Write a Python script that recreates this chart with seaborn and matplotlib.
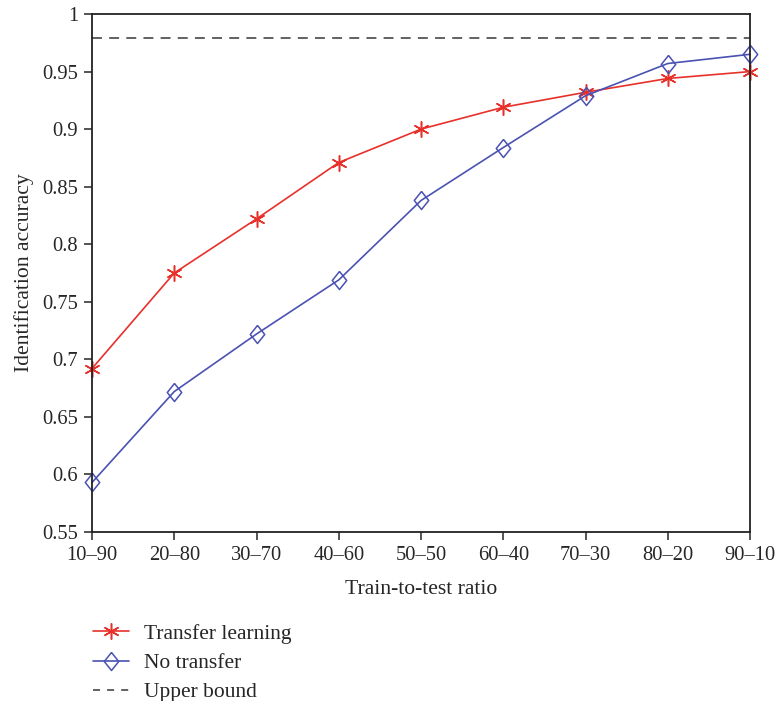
import numpy as np
import pandas as pd
import matplotlib
matplotlib.use("Agg")
import matplotlib.pyplot as plt
import seaborn as sns

# data
ratios = ["10\u201390", "20\u201380", "30\u201370", "40\u201360", "50\u201350",
          "60\u201340", "70\u201330", "80\u201320", "90\u201310"]
transfer = [0.692, 0.775, 0.822, 0.871, 0.900, 0.919, 0.932, 0.944, 0.950]
no_transfer = [0.593, 0.672, 0.722, 0.769, 0.838, 0.884, 0.929, 0.957, 0.965]
upper_bound = 0.979
y_ticks = [0.55, 0.6, 0.65, 0.7, 0.75, 0.8, 0.85, 0.9, 0.95, 1]
y_labels = ["0.55", "0.6", "0.65", "0.7", "0.75", "0.8", "0.85", "0.9", "0.95", "1"]

sns.set_theme(style="white")
plt.rcParams["font.family"] = ["Liberation Serif", "DejaVu Serif"]

pos = list(range(len(ratios)))
red = "#e8302a"
blue = "#4a52b2"
grey = "#555555"
star = (6, 2, 0)
diamond = [(0, 1), (0.8, 0), (0, -1), (-0.8, 0), (0, 1)]

fig = plt.figure(figsize=(7.77, 7.01), dpi=100)
ax = fig.add_axes([0.1184, 0.2411, 0.8469, 0.7389])

sns.lineplot(x=pos, y=transfer, color=red, marker=star, markersize=11.5,
             markeredgecolor=red, markeredgewidth=1.1, linewidth=1.2, ax=ax)
sns.lineplot(x=pos, y=no_transfer, color=blue, marker=diamond, markersize=13,
             markerfacecolor="none", markeredgecolor=blue, markeredgewidth=1.1,
             linewidth=1.2, ax=ax)
for line in ax.lines:
    line.set_clip_on(False)

ax.axhline(upper_bound, color=grey, linestyle=(0, (5.5, 4)), linewidth=1.3)

ax.set_xlim(0, len(ratios) - 1)
ax.set_ylim(0.55, 1)
ax.set_xticks(pos)
ax.set_xticklabels(ratios)
ax.set_yticks(y_ticks)
ax.set_yticklabels(y_labels)
ax.tick_params(axis="both", direction="out", length=6, width=1.1,
               labelsize=14.8, left=True, bottom=True, top=False, right=False, pad=4)
for s in ax.spines.values():
    s.set_color("#222222")
    s.set_linewidth(1.3)
ax.set_xlabel("Train-to-test ratio", fontsize=15.6, labelpad=11)
ax.set_ylabel("Identification accuracy", fontsize=15.6, labelpad=6)

handles = [
    plt.Line2D([], [], color=red, marker=star, markersize=11.5,
               markeredgewidth=1.1, linewidth=1.2),
    plt.Line2D([], [], color=blue, marker=diamond, markersize=13,
               markerfacecolor="none", markeredgewidth=1.1, linewidth=1.2),
    plt.Line2D([], [], color=grey, linestyle=(0, (3.9, 3.9)), linewidth=1.3),
]
fig.legend(handles, ["Transfer learning", "No transfer", "Upper bound"],
           loc="upper left", bbox_to_anchor=(0.1197, 0.110), frameon=False,
           borderpad=0, borderaxespad=0,
           fontsize=15.5, handlelength=1.65, handletextpad=0.7, labelspacing=0.42)

fig.savefig("out.png", dpi=100)
